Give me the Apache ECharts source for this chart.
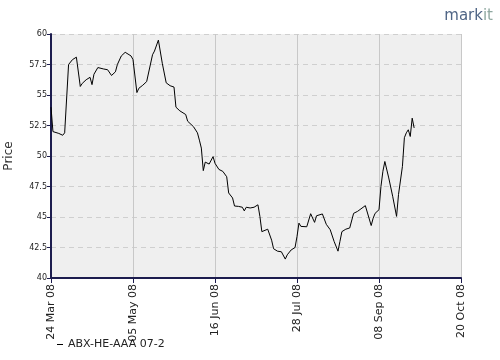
<!DOCTYPE html>
<html>
<head>
<meta charset="utf-8">
<script src="https://cdn.jsdelivr.net/npm/echarts@6/dist/echarts.min.js"></script>
<style>html,body{margin:0;padding:0;background:#fff}#c{width:500px;height:360px}</style>
</head>
<body>
<div id="c"></div>
<script>
const seriesName = 'ABX-HE-AAA 07-2';
const startDate = '2008-03-24';
const xTickLabels = ['24 Mar 08', '05 May 08', '16 Jun 08', '28 Jul 08', '08 Sep 08', '20 Oct 08'];
const yTicks = [40, 42.5, 45, 47.5, 50, 52.5, 55, 57.5, 60];
const dates = [
'2008-03-24','2008-03-25','2008-03-28','2008-03-30','2008-03-31','2008-04-02','2008-04-04','2008-04-06','2008-04-08','2008-04-09',
'2008-04-11','2008-04-13','2008-04-14','2008-04-15','2008-04-17','2008-04-20','2008-04-22','2008-04-24','2008-04-26','2008-04-27',
'2008-04-29','2008-05-01','2008-05-02','2008-05-04','2008-05-05','2008-05-07','2008-05-08','2008-05-10','2008-05-12','2008-05-15',
'2008-05-16','2008-05-18','2008-05-20','2008-05-22','2008-05-24','2008-05-26','2008-05-27','2008-05-29','2008-06-01','2008-06-02',
'2008-06-03','2008-06-05','2008-06-07','2008-06-08','2008-06-09','2008-06-10','2008-06-11','2008-06-13','2008-06-15','2008-06-16',
'2008-06-18','2008-06-20','2008-06-22','2008-06-23','2008-06-25','2008-06-26','2008-06-28','2008-06-30','2008-07-01','2008-07-02',
'2008-07-04','2008-07-06','2008-07-08','2008-07-09','2008-07-10','2008-07-11','2008-07-13','2008-07-15','2008-07-16','2008-07-18',
'2008-07-20','2008-07-22','2008-07-23','2008-07-25','2008-07-27','2008-07-28','2008-07-29','2008-07-30','2008-08-02','2008-08-03',
'2008-08-04','2008-08-05','2008-08-06','2008-08-07','2008-08-10','2008-08-11','2008-08-12','2008-08-14','2008-08-16','2008-08-18',
'2008-08-19','2008-08-20','2008-08-22','2008-08-24','2008-08-26','2008-08-28','2008-08-29','2008-09-01','2008-09-02','2008-09-04',
'2008-09-05','2008-09-06','2008-09-08','2008-09-09','2008-09-10','2008-09-11','2008-09-13','2008-09-15','2008-09-17','2008-09-18',
'2008-09-20','2008-09-21','2008-09-22','2008-09-23','2008-09-24','2008-09-25','2008-09-26'
];
const prices = [
54.0,52.0,51.85,51.7,51.9,57.5,57.9,58.1,55.7,55.95,
56.25,56.45,55.85,56.7,57.25,57.13,57.07,56.6,56.9,57.5,
58.2,58.5,58.4,58.2,57.9,55.2,55.55,55.8,56.1,58.3,
58.6,59.5,57.6,56.0,55.76,55.65,54.0,53.7,53.4,52.85,
52.92,52.4,51.9,51.3,50.65,48.8,49.5,49.34,49.95,49.4,
48.9,48.74,48.3,46.97,46.56,45.9,45.87,45.8,45.5,45.8,
45.74,45.8,46.0,45.05,43.8,43.96,44.0,43.1,42.4,42.2,
42.15,41.55,41.9,42.3,42.5,43.4,44.5,44.23,44.2,44.2,
45.27,45.25,44.56,45.1,45.25,45.1,44.4,43.96,43.0,42.2,
43.0,43.8,44.0,44.1,45.3,45.46,45.6,45.93,46.05,44.3,
44.9,45.3,45.6,47.5,48.75,49.55,48.2,46.7,45.05,46.85,
49.15,51.5,51.9,52.15,51.6,53.1,52.3
];

const DAY = 86400000;
const t0 = Date.parse(startDate + 'T00:00:00Z');
const dayOf = s => Math.round((Date.parse(s + 'T00:00:00Z') - t0) / DAY);
const data = dates.map((d, i) => [dayOf(d), prices[i]]);
const stepDays = 42;

const chart = echarts.init(document.getElementById('c'), null, {renderer: 'canvas'});
chart.setOption({
  animation: false,
  backgroundColor: '#ffffff',
  grid: {left: 51, right: 39, top: 34, bottom: 82, show: true, backgroundColor: '#efefef', borderWidth: 0,
    containLabel: false, outerBoundsMode: 'none'},
  xAxis: {
    type: 'value', min: 0, max: stepDays * (xTickLabels.length - 1), interval: stepDays,
    axisLine: {show: true, onZero: false, lineStyle: {color: '#1c1c4e', width: 2}},
    axisTick: {show: true, length: 5, lineStyle: {color: '#1c1c4e', width: 1}},
    splitLine: {show: true, lineStyle: {color: '#c8c8c8', width: 1, type: 'solid'}},
    axisLabel: {
      rotate: 90, fontSize: 11, color: '#222', margin: 6, fontFamily: 'DejaVu Sans',
      formatter: v => xTickLabels[Math.round(v / stepDays)] || ''
    }
  },
  yAxis: {
    type: 'value', min: yTicks[0], max: yTicks[yTicks.length - 1], interval: 2.5,
    name: 'Price', nameLocation: 'middle', nameGap: 36, nameRotate: 90,
    nameTextStyle: {fontSize: 12, color: '#333', fontFamily: 'DejaVu Sans'},
    axisLine: {show: true, lineStyle: {color: '#1c1c4e', width: 2}},
    axisTick: {show: true, length: 4, lineStyle: {color: '#1c1c4e', width: 1}},
    splitLine: {show: true, lineStyle: {color: '#cfcfcf', width: 1, type: [5, 4]}},
    axisLabel: {fontSize: 8, color: '#222', margin: 4, fontFamily: 'DejaVu Sans',
      formatter: v => String(v)}
  },
  legend: {
    left: 52, top: 334, itemWidth: 6, itemHeight: 1, icon: 'rect', itemGap: 6,
    textStyle: {fontSize: 11, color: '#222', fontFamily: 'DejaVu Sans'},
    data: [seriesName]
  },
  graphic: [{
    type: 'text', right: 7, top: 9,
    style: {
      text: '{a|mark}{b|it}',
      rich: {
        a: {fontSize: 15, fill: '#4f6585', fontFamily: 'DejaVu Sans'},
        b: {fontSize: 15, fill: '#8fa8a0', fontFamily: 'DejaVu Sans'}
      }
    }
  }],
  series: [{
    name: seriesName, type: 'line', data: data, showSymbol: false, symbol: 'none',
    lineStyle: {color: '#000', width: 1}, itemStyle: {color: '#000'}
  }]
});
</script>
</body>
</html>
